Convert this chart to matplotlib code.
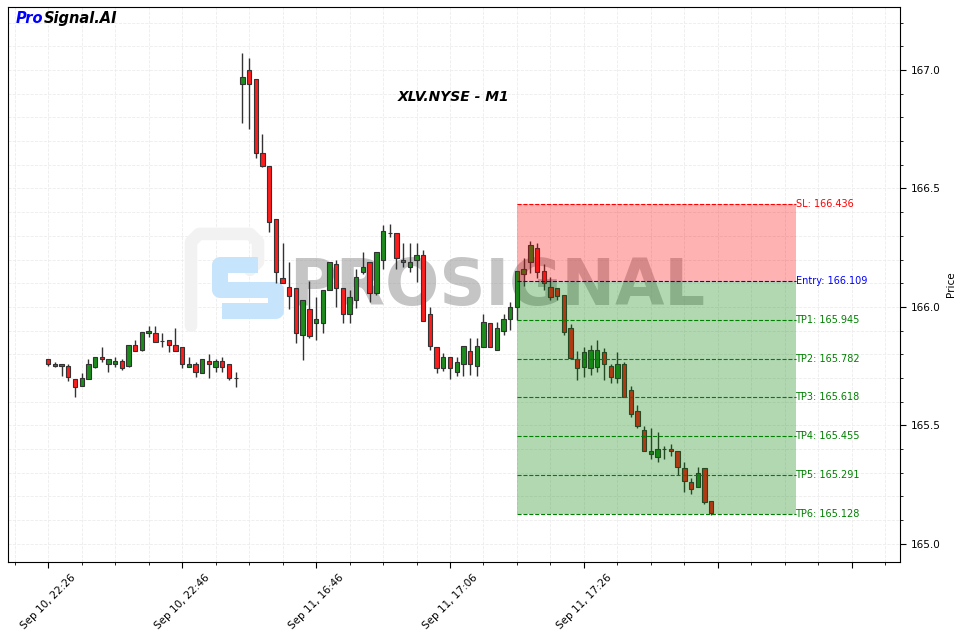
import matplotlib
matplotlib.use("Agg")
from matplotlib import pyplot as plt
from matplotlib.ticker import MultipleLocator, FuncFormatter
import numpy as np
import pandas as pd

# one-minute bars, two sessions
session1 = pd.date_range("2024-09-10 22:26", periods=29, freq="min")
session2 = pd.date_range("2024-09-11 16:35", periods=71, freq="min")
times = session1.append(session2)

opens = [165.779, 165.750, 165.760, 165.750, 165.697, 165.668, 165.697, 165.748, 165.788, 165.758,
         165.758, 165.771, 165.751, 165.838, 165.819, 165.889, 165.889, 165.858, 165.861, 165.838,
         165.830, 165.748, 165.758, 165.720, 165.771, 165.748, 165.771, 165.758, 165.699,
         166.940, 167.000, 166.961, 166.649, 166.596, 166.370, 166.121, 166.086, 166.079, 165.882,
         165.990, 165.931, 165.931, 166.072, 166.180, 166.079, 165.970, 166.030, 166.149, 166.189,
         166.058, 166.198, 166.311, 166.311, 166.198, 166.167, 166.198, 166.219, 165.970, 165.830,
         165.741, 165.788, 165.727, 165.760, 165.816, 165.751, 165.830, 165.931, 165.819, 165.899,
         165.948, 165.999, 166.138, 166.189, 166.248, 166.152, 166.086, 166.079, 166.051, 165.910,
         165.779, 165.748, 165.741, 165.748, 165.809, 165.751, 165.699, 165.760, 165.650, 165.561,
         165.481, 165.379, 165.368, 165.401, 165.401, 165.390, 165.319, 165.260, 165.238, 165.319,
         165.181]
highs = [165.781, 165.769, 165.760, 165.760, 165.697, 165.720, 165.779, 165.790, 165.830, 165.779,
         165.787, 165.779, 165.838, 165.861, 165.896, 165.920, 165.920, 165.889, 165.861, 165.910,
         165.830, 165.788, 165.769, 165.779, 165.800, 165.779, 165.790, 165.758, 165.727,
         167.070, 167.049, 166.961, 166.729, 166.596, 166.370, 166.271, 166.189, 166.079, 166.030,
         166.110, 166.041, 166.072, 166.189, 166.198, 166.079, 166.072, 166.159, 166.231, 166.189,
         166.231, 166.346, 166.349, 166.311, 166.269, 166.269, 166.269, 166.241, 166.000, 165.830,
         165.805, 165.788, 165.790, 165.837, 165.868, 165.868, 165.970, 165.931, 165.938, 165.970,
         166.022, 166.152, 166.208, 166.278, 166.269, 166.180, 166.128, 166.079, 166.051, 165.927,
         165.816, 165.830, 165.840, 165.861, 165.827, 165.760, 165.809, 165.769, 165.668, 165.587,
         165.499, 165.488, 165.470, 165.411, 165.422, 165.390, 165.347, 165.280, 165.326, 165.319,
         165.181]
lows = [165.751, 165.748, 165.709, 165.689, 165.619, 165.668, 165.695, 165.741, 165.769, 165.727,
        165.748, 165.734, 165.748, 165.816, 165.816, 165.872, 165.851, 165.832, 165.809, 165.816,
        165.741, 165.748, 165.706, 165.720, 165.699, 165.727, 165.727, 165.692, 165.664,
        166.778, 166.750, 166.627, 166.589, 166.318, 166.100, 166.100, 165.990, 165.849, 165.776,
        165.868, 165.861, 165.889, 166.072, 166.001, 165.931, 165.931, 165.995, 166.139, 166.022,
        166.050, 166.159, 166.297, 166.159, 166.167, 166.149, 166.107, 165.941, 165.819, 165.720,
        165.731, 165.695, 165.709, 165.709, 165.713, 165.709, 165.830, 165.830, 165.819, 165.882,
        165.903, 165.945, 166.089, 166.142, 166.121, 166.072, 166.030, 166.030, 165.882, 165.786,
        165.692, 165.706, 165.713, 165.727, 165.692, 165.679, 165.678, 165.619, 165.537, 165.489,
        165.390, 165.359, 165.347, 165.359, 165.371, 165.291, 165.218, 165.211, 165.238, 165.169,
        165.120]
closes = [165.758, 165.760, 165.751, 165.706, 165.661, 165.699, 165.758, 165.788, 165.779, 165.779,
          165.772, 165.741, 165.838, 165.816, 165.896, 165.899, 165.851, 165.858, 165.838, 165.816,
          165.758, 165.760, 165.727, 165.779, 165.758, 165.771, 165.748, 165.699, 165.699,
          166.969, 166.940, 166.649, 166.596, 166.357, 166.149, 166.100, 166.048, 165.889, 166.030,
          165.879, 165.948, 166.072, 166.189, 166.079, 165.970, 166.041, 166.128, 166.167, 166.058,
          166.231, 166.321, 166.311, 166.208, 166.189, 166.189, 166.219, 165.941, 165.837, 165.741,
          165.788, 165.741, 165.769, 165.837, 165.760, 165.837, 165.938, 165.830, 165.910, 165.948,
          165.999, 166.152, 166.160, 166.262, 166.149, 166.100, 166.041, 166.048, 165.896, 165.786,
          165.741, 165.809, 165.819, 165.819, 165.758, 165.706, 165.760, 165.619, 165.547, 165.499,
          165.390, 165.392, 165.400, 165.401, 165.390, 165.326, 165.267, 165.231, 165.298, 165.178,
          165.130]

entry = 166.109
stop_loss = 166.436
take_profits = [165.945, 165.782, 165.618, 165.455, 165.291, 165.128]
signal_start = 70
zone_end = 111.6

fig = plt.figure(figsize=(9.56, 6.32), dpi=100)
ax = fig.add_axes([0.0084, 0.111, 0.933, 0.878])

o = np.array(opens)
h = np.array(highs)
l = np.array(lows)
c = np.array(closes)
x = np.arange(len(o))
up = c >= o
body_colors = np.where(up, "#1c8c1c", "#ff1c1c")

ax.vlines(x, l, h, colors="#333333", linewidth=1.0, zorder=2)
ax.bar(x, np.abs(c - o), bottom=np.minimum(o, c), width=0.65, color=body_colors,
       edgecolor="#333333", linewidth=0.8, zorder=3)

# watermark: faint "P" outline, blocky blue "S", grey word
def px(xp, yp):
    return (xp - 8) / 892, 1 - (yp - 7) / 555

p_path = [px(191, 326), px(191, 242), px(199, 234), px(250, 234), px(258, 242), px(258, 262), px(250, 270)]
ax.plot(*zip(*p_path), transform=ax.transAxes, color="#f2f2f2", lw=9,
        solid_capstyle="round", solid_joinstyle="round", zorder=1)
s_path = [px(258, 265), px(220, 265), px(220, 290), px(276, 290), px(276, 311), px(222, 311)]
ax.plot(*zip(*s_path), transform=ax.transAxes, color="#c6e4fb", lw=11.5,
        solid_capstyle="butt", solid_joinstyle="round", zorder=1)
ax.text(0.548, 0.495, "PROSIGNAL", transform=ax.transAxes, fontsize=46, fontweight="bold",
        color="#808080", alpha=0.45, ha="center", va="center", zorder=1)

# signal zones
ax.fill_between([signal_start, zone_end], entry, stop_loss, color="red", alpha=0.3,
                linewidth=0, zorder=4)
ax.fill_between([signal_start, zone_end], take_profits[-1], entry, color="green", alpha=0.3,
                linewidth=0, zorder=4)
ax.hlines(stop_loss, signal_start, zone_end, colors="red", linestyles="--", linewidth=0.8, zorder=5)
ax.hlines(entry, signal_start, zone_end, colors="blue", linestyles="--", linewidth=0.8, zorder=5)
ax.text(zone_end, stop_loss, f"SL: {stop_loss}", color="red", fontsize=7, va="center", zorder=6)
ax.text(zone_end, entry, f"Entry: {entry}", color="blue", fontsize=7, va="center", zorder=6)
for k, tp in enumerate(take_profits, 1):
    ax.hlines(tp, signal_start, zone_end, colors="green", linestyles="--", linewidth=0.8, zorder=5)
    ax.text(zone_end, tp, f"TP{k}: {tp}", color="green", fontsize=7, va="center", zorder=6)

ax.set_xlim(-6, 127.2)
ax.set_ylim(164.924, 167.266)

def fmt_time(v, pos):
    i = int(round(v))
    if 0 <= i < len(times):
        return times[i].strftime("%b %d, %H:%M")
    return ""

ax.xaxis.set_major_locator(MultipleLocator(20))
ax.xaxis.set_minor_locator(MultipleLocator(5))
ax.xaxis.set_major_formatter(FuncFormatter(fmt_time))
ax.yaxis.set_major_locator(MultipleLocator(0.5))
ax.yaxis.set_minor_locator(MultipleLocator(0.1))
ax.yaxis.tick_right()
ax.yaxis.set_label_position("right")
ax.set_ylabel("Price", fontsize=7.5)
ax.tick_params(axis="both", which="major", labelsize=7.5, length=4)
ax.tick_params(axis="both", which="minor", length=2)
for lab in ax.get_xticklabels():
    lab.set_rotation(45)
    lab.set_ha("center")
ax.grid(which="both", linestyle="--", color="#ececec", linewidth=0.6, zorder=0)
ax.set_axisbelow(True)

ax.text(0.5, 0.838, "XLV.NYSE - M1", transform=ax.transAxes, fontsize=10,
        fontweight="bold", fontstyle="italic", ha="center", va="center")
t1 = ax.text(0.009, 0.992, "Pro", transform=ax.transAxes, fontsize=10.5, color="blue",
             fontweight="bold", fontstyle="italic", va="top", ha="left")
ax.annotate("Signal.AI", xy=(1, 0), xycoords=t1, fontsize=10.5, color="black",
            fontweight="bold", fontstyle="italic", va="bottom", ha="left")

fig.savefig("out.png", dpi=100)
